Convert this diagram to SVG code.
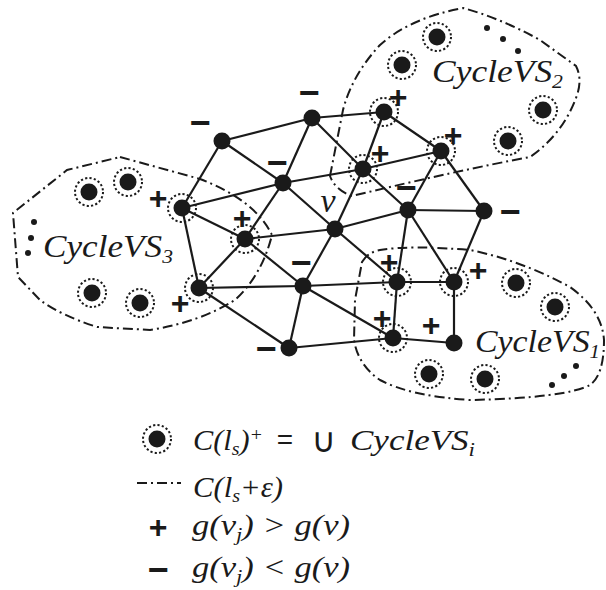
<svg xmlns="http://www.w3.org/2000/svg" width="606" height="590" viewBox="0 0 606 590">
<style>
.e{stroke:#1a1a1a;stroke-width:2.2;fill:none}
.dd{stroke:#1a1a1a;stroke-width:2;fill:none;stroke-dasharray:10 4 2 4}
.n{fill:#1a1a1a}
.r{fill:none;stroke:#1a1a1a;stroke-width:2;stroke-dasharray:2.2 2.2}
.p{font-family:"Liberation Sans",Arial,sans-serif;font-weight:bold;font-size:32px;fill:#1a1a1a;text-anchor:middle}
.m{font-family:"Liberation Sans",Arial,sans-serif;font-weight:bold;font-size:36px;fill:#1a1a1a;text-anchor:middle}
.t{font-family:"Liberation Serif","Times New Roman",serif;font-style:italic;font-size:31px;fill:#1a1a1a}
.lg{font-family:"Liberation Serif","Times New Roman",serif;font-style:italic;font-size:29px;fill:#1a1a1a}
.s{font-size:19px}
.u{font-family:"DejaVu Sans",sans-serif;font-size:34px;fill:#1a1a1a;text-anchor:middle}
.eq{font-family:"Liberation Sans",Arial,sans-serif;font-size:28px;fill:#1a1a1a;text-anchor:middle}
</style>
<defs>
<g id="rn"><circle class="r" r="14"/><circle class="n" r="8.5"/></g>
</defs>
<g id="contours">
<path class="dd" d="M330,176 L343,110 Q352,75 380,45 Q410,18 463,8 Q500,18 540,40 L576,66 Q583,80 576,98 Q562,135 530,157 Q460,170 352,196 Q335,190 330,176 Z"/>
<path class="dd" d="M362,262 Q368,252 380,250 Q410,245 470,250 Q520,260 570,287 Q602,310 604,340 Q604,375 590,385 Q565,398 470,400 Q410,396 380,380 Q358,365 354,340 L355,300 Z"/>
<path class="dd" d="M120,157 L200,179 Q255,200 272,235 Q262,275 235,300 Q200,322 150,330 L97,327 Q60,315 40,300 L18,277 L13,213 L67,170 Z"/>
</g>
<g id="connectors">
<line class="e" x1="222" y1="141" x2="312" y2="118"/>
<line class="e" x1="222" y1="141" x2="283" y2="183"/>
<line class="e" x1="222" y1="141" x2="182" y2="208"/>
<line class="e" x1="312" y1="118" x2="283" y2="183"/>
<line class="e" x1="312" y1="118" x2="384" y2="112"/>
<line class="e" x1="312" y1="118" x2="363" y2="169"/>
<line class="e" x1="283" y1="183" x2="182" y2="208"/>
<line class="e" x1="283" y1="183" x2="363" y2="169"/>
<line class="e" x1="283" y1="183" x2="245" y2="239"/>
<line class="e" x1="283" y1="183" x2="335" y2="229"/>
<line class="e" x1="182" y1="208" x2="245" y2="239"/>
<line class="e" x1="182" y1="208" x2="199" y2="288"/>
<line class="e" x1="245" y1="239" x2="335" y2="229"/>
<line class="e" x1="245" y1="239" x2="199" y2="288"/>
<line class="e" x1="245" y1="239" x2="303" y2="286"/>
<line class="e" x1="384" y1="112" x2="363" y2="169"/>
<line class="e" x1="384" y1="112" x2="441" y2="151"/>
<line class="e" x1="363" y1="169" x2="441" y2="151"/>
<line class="e" x1="363" y1="169" x2="335" y2="229"/>
<line class="e" x1="363" y1="169" x2="408" y2="210"/>
<line class="e" x1="441" y1="151" x2="408" y2="210"/>
<line class="e" x1="441" y1="151" x2="484" y2="211"/>
<line class="e" x1="408" y1="210" x2="484" y2="211"/>
<line class="e" x1="335" y1="229" x2="408" y2="210"/>
<line class="e" x1="335" y1="229" x2="303" y2="286"/>
<line class="e" x1="335" y1="229" x2="397" y2="282"/>
<line class="e" x1="408" y1="210" x2="397" y2="282"/>
<line class="e" x1="408" y1="210" x2="454" y2="282"/>
<line class="e" x1="484" y1="211" x2="454" y2="282"/>
<line class="e" x1="199" y1="288" x2="303" y2="286"/>
<line class="e" x1="199" y1="288" x2="289" y2="348"/>
<line class="e" x1="303" y1="286" x2="289" y2="348"/>
<line class="e" x1="303" y1="286" x2="397" y2="282"/>
<line class="e" x1="303" y1="286" x2="393" y2="338"/>
<line class="e" x1="289" y1="348" x2="393" y2="338"/>
<line class="e" x1="397" y1="282" x2="454" y2="282"/>
<line class="e" x1="397" y1="282" x2="393" y2="338"/>
<line class="e" x1="454" y1="282" x2="454" y2="343"/>
<line class="e" x1="393" y1="338" x2="454" y2="343"/>
</g>
<g id="nA"><circle class="n" cx="222" cy="141" r="8.5"/><text class="m" x="200" y="135">−</text></g>
<g id="nB"><circle class="n" cx="312" cy="118" r="8.5"/><text class="m" x="309" y="105">−</text></g>
<g id="nC"><circle class="n" cx="283" cy="183" r="8.5"/><text class="m" x="277" y="175">−</text></g>
<g id="nD"><use href="#rn" x="182" y="208"/><text class="p" x="158" y="209">+</text></g>
<g id="nE"><use href="#rn" x="245" y="239"/><text class="p" x="242" y="229">+</text></g>
<g id="nV"><circle class="n" cx="335" cy="229" r="8.5"/><text class="t" x="328" y="212" text-anchor="middle" style="font-size:34px">ν</text></g>
<g id="nF"><use href="#rn" x="384" y="112"/><text class="p" x="398" y="108">+</text></g>
<g id="nG"><use href="#rn" x="441" y="151"/><text class="p" x="453" y="146">+</text></g>
<g id="nH"><use href="#rn" x="363" y="169"/><text class="p" x="380" y="164">+</text></g>
<g id="nI"><circle class="n" cx="408" cy="210" r="8.5"/><text class="m" x="406" y="200">−</text></g>
<g id="nJ"><circle class="n" cx="484" cy="211" r="8.5"/><text class="m" x="510" y="224">−</text></g>
<g id="nK"><use href="#rn" x="199" y="288"/><text class="p" x="180" y="314">+</text></g>
<g id="nL"><circle class="n" cx="303" cy="286" r="8.5"/><text class="m" x="301" y="275">−</text></g>
<g id="nM"><circle class="n" cx="289" cy="348" r="8.5"/><text class="m" x="266" y="361">−</text></g>
<g id="nN"><use href="#rn" x="397" y="282"/><text class="p" x="389" y="273">+</text></g>
<g id="nO"><use href="#rn" x="454" y="282"/><text class="p" x="478" y="281">+</text></g>
<g id="nP"><use href="#rn" x="393" y="338"/><text class="p" x="382" y="329">+</text></g>
<g id="nQ"><circle class="n" cx="454" cy="343" r="8.5"/><text class="p" x="431" y="336">+</text></g>
<g id="vs1">
<use href="#rn" x="516" y="283"/><use href="#rn" x="555" y="307"/><use href="#rn" x="429" y="374"/><use href="#rn" x="485" y="379"/>
<circle class="n" cx="552" cy="385" r="3"/><circle class="n" cx="564" cy="376" r="3"/><circle class="n" cx="576" cy="366" r="3"/>
<text class="t" x="475" y="352" textLength="125" lengthAdjust="spacingAndGlyphs">CycleVS<tspan class="s" dy="6">1</tspan></text>
</g>
<g id="vs2">
<use href="#rn" x="437" y="37"/><use href="#rn" x="402" y="65"/><use href="#rn" x="543" y="110"/><use href="#rn" x="508" y="141"/>
<circle class="n" cx="487" cy="28" r="3"/><circle class="n" cx="503" cy="39" r="3"/><circle class="n" cx="518" cy="51" r="3"/>
<text class="t" x="432" y="82" textLength="131" lengthAdjust="spacingAndGlyphs">CycleVS<tspan class="s" dy="6">2</tspan></text>
</g>
<g id="vs3">
<use href="#rn" x="89" y="192"/><use href="#rn" x="128" y="182"/><use href="#rn" x="92" y="293"/><use href="#rn" x="140" y="303"/>
<circle class="n" cx="34" cy="222" r="3"/><circle class="n" cx="31" cy="238" r="3"/><circle class="n" cx="28" cy="253" r="3"/>
<text class="t" x="43" y="257" textLength="130" lengthAdjust="spacingAndGlyphs">CycleVS<tspan class="s" dy="6">3</tspan></text>
</g>
<g id="legend">
<use href="#rn" x="157" y="439"/>
<text class="lg" x="193" y="450" textLength="70" lengthAdjust="spacingAndGlyphs">C(l<tspan class="s" dy="5">s</tspan><tspan dy="-5">)</tspan><tspan class="s" dy="-9">+</tspan></text>
<text class="eq" x="285" y="449">=</text>
<text class="u" x="324" y="452">∪</text>
<text class="lg" x="350" y="450" textLength="125" lengthAdjust="spacingAndGlyphs">CycleVS<tspan class="s" dy="6">i</tspan></text>
<line class="dd" x1="137" y1="483" x2="181" y2="483"/>
<text class="lg" x="193" y="497" textLength="90" lengthAdjust="spacingAndGlyphs">C(l<tspan class="s" dy="5">s</tspan><tspan dy="-5">+ε)</tspan></text>
<text class="p" x="158" y="538">+</text>
<text class="lg" x="192" y="535" textLength="158" lengthAdjust="spacingAndGlyphs">g(ν<tspan class="s" dy="6">j</tspan><tspan dy="-6">) &gt; g(ν)</tspan></text>
<text class="m" x="158" y="582">−</text>
<text class="lg" x="192" y="577" textLength="158" lengthAdjust="spacingAndGlyphs">g(ν<tspan class="s" dy="6">j</tspan><tspan dy="-6">) &lt; g(ν)</tspan></text>
</g>
</svg>
